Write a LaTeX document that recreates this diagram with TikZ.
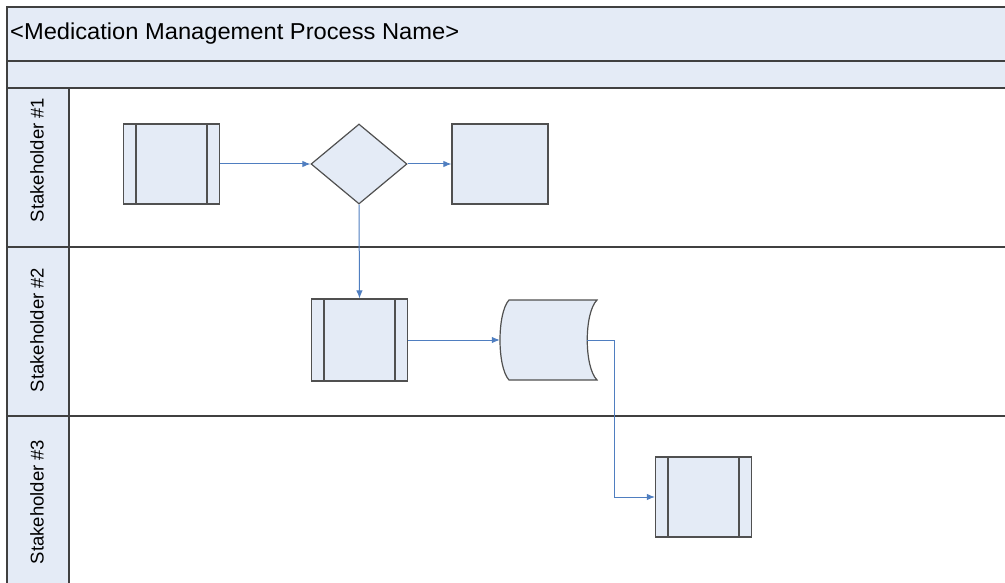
\documentclass[tikz,border=0pt]{standalone}
\usepackage{fontspec}
\setmainfont{Liberation Sans}
\usepackage{tikz}
\usetikzlibrary{arrows.meta,shapes.geometric}

\definecolor{lanefill}{RGB}{228,235,246}
\definecolor{laneline}{RGB}{64,64,64}
\definecolor{shapeline}{RGB}{80,80,80}
\definecolor{flowblue}{RGB}{79,126,192}

\tikzset{
  task/.style={draw=shapeline, fill=lanefill, line width=1.2pt, inner sep=0pt,
               minimum width=96pt, minimum height=80pt},
  subtask/.style={task, path picture={
      \draw[shapeline, line width=1.2pt]
        ([xshift=12.5pt]path picture bounding box.north west) --
        ([xshift=12.5pt]path picture bounding box.south west);
      \draw[shapeline, line width=1.2pt]
        ([xshift=-12.5pt]path picture bounding box.north east) --
        ([xshift=-12.5pt]path picture bounding box.south east);}},
  decision/.style={diamond, draw=shapeline, fill=lanefill, line width=1.2pt,
               inner sep=0pt, minimum width=96pt, minimum height=80pt},
  flow/.style={draw=flowblue, line width=1pt, -{Latex[length=8pt,width=6.5pt]}},
  lanelabel/.style={rotate=90, font=\fontsize{18.5}{22}\selectfont}
}

\begin{document}
\begin{tikzpicture}[x=1pt, y=-1pt]
\useasboundingbox (0,0) rectangle (1005,583);

% header bars and the label column
\fill[lanefill] (7,7) rectangle (1005,88);
\fill[lanefill] (7,88) rectangle (69,583);
\draw[laneline, line width=1.5pt] (7,583) -- (7,7) -- (1005,7);
\draw[laneline, line width=1.5pt] (7,61) -- (1005,61);
\draw[laneline, line width=1.5pt] (7,88) -- (1005,88);
\draw[laneline, line width=1.5pt] (7,247) -- (1005,247);
\draw[laneline, line width=1.5pt] (7,416) -- (1005,416);
\draw[laneline, line width=1.2pt] (69,88) -- (69,583);

\node[anchor=west, inner sep=0pt, xscale=1.03, font=\fontsize{23}{27}\selectfont] (title) at (10,34) {<Medication Management Process Name>};

\node[lanelabel] (lane1) at (37,160) {Stakeholder \#1};
\node[lanelabel] (lane2) at (37,330) {Stakeholder \#2};
\node[lanelabel] (lane3) at (37,502) {Stakeholder \#3};

% process steps
\node[subtask] (start) at (171.5,164) {};
\node[decision] (check) at (359,164) {};
\node[task] (result) at (500,164) {};
\node[subtask, minimum height=82pt] (review) at (359.5,340) {};
\node[subtask] (handover) at (703.5,497) {};

% stored data
\node[inner sep=0pt, minimum width=97pt, minimum height=80pt] (store) at (548.5,340) {};
\draw[shapeline, fill=lanefill, line width=1.2pt]
  (509,300) -- (597,300) .. controls (584,313) and (584,367) .. (597,380)
  -- (509,380) .. controls (497,367) and (497,313) .. (509,300) -- cycle;
\coordinate (storeout) at (587,340);

% connectors
\draw[flow] (start.east) -- (check.west);
\draw[flow] (check.east) -- (result.west);
\draw[flow] (check.south) -- (review.north);
\draw[flow] (review.east) -- (store.west);
\draw[flow] (storeout) -- ++(27,0) |- (handover.west);
\end{tikzpicture}
\end{document}
